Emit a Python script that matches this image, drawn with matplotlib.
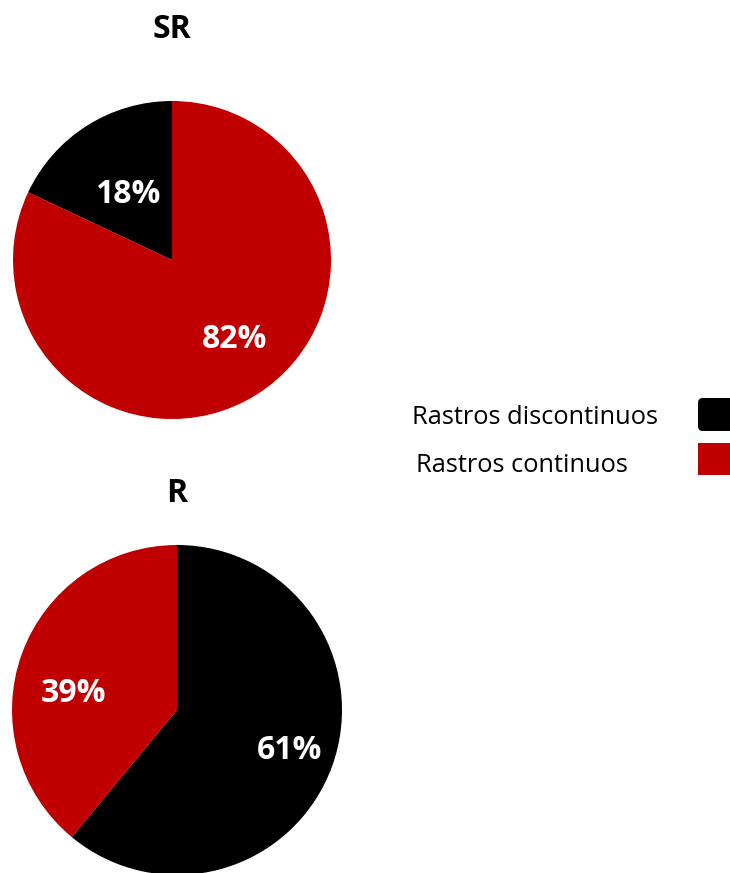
import matplotlib.pyplot as plt
from matplotlib.patches import FancyBboxPatch, Rectangle

# categories and shares (%) per group
categorias = ['Rastros discontinuos', 'Rastros continuos']
colores = ['#000000', '#C00000']
sr = [18, 82]
r = [61, 39]

# label anchors inside each pie (fraction of radius)
sr_lbl = [(-0.277, 0.415), (0.396, -0.497)]
r_lbl = [(0.685, -0.248), (-0.630, 0.103)]

W, H = 730, 873
fig = plt.figure(figsize=(W / 100, H / 100), dpi=100)

def px_axes(cx, cy, rad):
    # axes box in figure fractions from a center/radius in pixels (top-left origin)
    return [(cx - rad) / W, (H - cy - rad) / H, 2 * rad / W, 2 * rad / H]

lbl = dict(color='white', fontsize=23, fontweight='bold', family='Open Sans')

#%% SR
ax1 = fig.add_axes(px_axes(172, 260, 159))
w1, t1, a1 = ax1.pie(sr, colors=colores, startangle=90, counterclock=True,
                     autopct='%1.0f%%', radius=1,
                     wedgeprops=dict(linewidth=0), textprops=lbl)
for a, xy in zip(a1, sr_lbl):
    a.set_position(xy)
ax1.set_xlim(-1, 1)
ax1.set_ylim(-1, 1)
ax1.set_title('SR', fontsize=23, fontweight='bold', family='Open Sans', pad=45)

#%% R
ax2 = fig.add_axes(px_axes(177, 710, 165))
w2, t2, a2 = ax2.pie(r, colors=colores, startangle=90, counterclock=False,
                     autopct='%1.0f%%', radius=1,
                     wedgeprops=dict(linewidth=0), textprops=lbl)
for a, xy in zip(a2, r_lbl):
    a.set_position(xy)
ax2.set_xlim(-1, 1)
ax2.set_ylim(-1, 1)
ax2.set_title('R', fontsize=23, fontweight='bold', family='Open Sans', pad=31)
for ax in (ax1, ax2):
    for w in ax.patches:
        w.set_clip_on(False)

#%% legend (text left, swatch right)
txt_xy = [(412, 417), (416, 465)]
sw_y = [(398, 431), (443, 475)]
for i, cat in enumerate(categorias):
    fig.text(txt_xy[i][0] / W, 1 - txt_xy[i][1] / H, cat, fontsize=18.3,
             family='Open Sans', va='center', ha='left')
    y0, y1 = sw_y[i]
    if i == 0:
        p = FancyBboxPatch((698 / W, 1 - y1 / H), 40 / W, (y1 - y0) / H,
                           boxstyle='round,pad=0,rounding_size=0.006',
                           transform=fig.transFigure, color=colores[i], lw=0)
    else:
        p = Rectangle((698 / W, 1 - y1 / H), 40 / W, (y1 - y0) / H,
                      transform=fig.transFigure, color=colores[i], lw=0)
    fig.patches.append(p)

fig.savefig('out.png', dpi=100)
